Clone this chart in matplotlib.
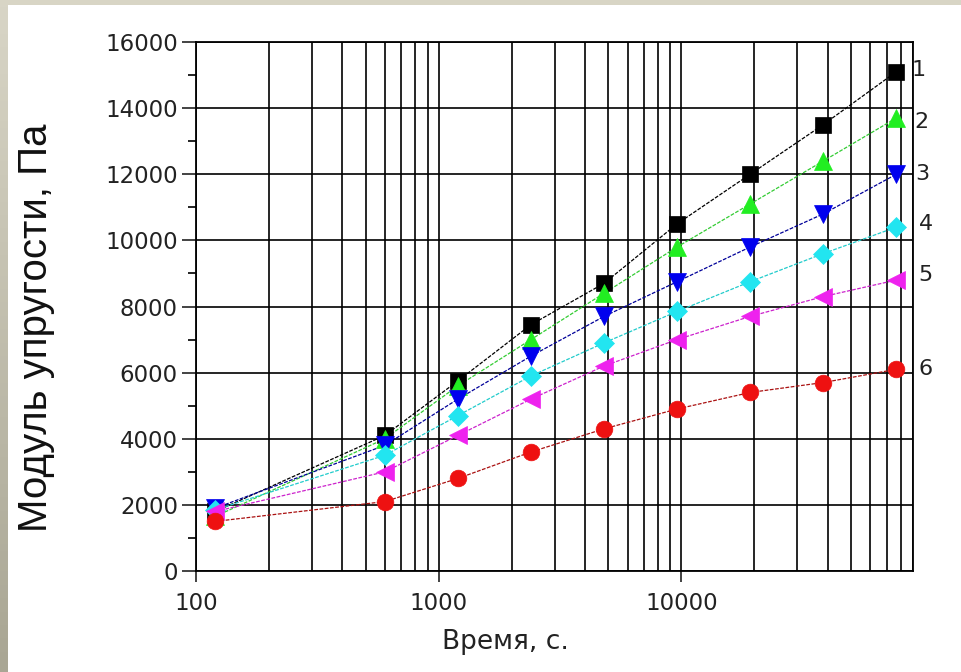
import matplotlib
matplotlib.use("Agg")
import matplotlib.pyplot as plt
from matplotlib.colors import LinearSegmentedColormap
from matplotlib.ticker import LogLocator, FixedLocator, MultipleLocator, NullFormatter
import numpy as np

# time, s
time_s = [120, 600, 1200, 2400, 4800, 9600, 19200, 38400, 76800]

# elastic modulus, Pa (curves 1..6)
curve_1 = [1800, 4100, 5750, 7450, 8700, 10500, 12000, 13500, 15100]
curve_2 = [1650, 4000, 5600, 7000, 8400, 9800, 11100, 12400, 13700]
curve_3 = [1900, 3800, 5200, 6500, 7700, 8750, 9800, 10800, 12000]
curve_4 = [1850, 3500, 4700, 5900, 6900, 7850, 8750, 9600, 10400]
curve_5 = [1800, 3000, 4100, 5200, 6200, 7000, 7700, 8300, 8800]
curve_6 = [1500, 2100, 2800, 3600, 4300, 4900, 5400, 5700, 6100]

curve_names = ["1", "2", "3", "4", "5", "6"]
curves = [curve_1, curve_2, curve_3, curve_4, curve_5, curve_6]

# (marker, face colour, line colour, marker size)
styles = [
    ("s", "#000000", "#000000", 12),
    ("^", "#22ee22", "#33cc33", 13),
    ("v", "#0000ee", "#000099", 13),
    ("D", "#22e5f0", "#22cccc", 10),
    ("<", "#ee22ee", "#cc22cc", 13),
    ("o", "#ee1111", "#aa1111", 12),
]
# label offsets from the last point, in points
label_offsets = [(11, 1.5), (13, -3), (14, 0), (16, 2), (16, 3.5), (16, 0)]

fig = plt.figure(figsize=(9.61, 6.72), dpi=100)
fig.patch.set_facecolor("white")

# greyish frame: thin strip at top, gradient strip on the left
fig.add_artist(plt.Rectangle((0, 1 - 5 / 672), 1, 5 / 672, transform=fig.transFigure,
                             facecolor="#d8d5c5", edgecolor="none"))
strip = fig.add_axes([0, 0, 8 / 961, 1])
strip.set_axis_off()
cmap = LinearSegmentedColormap.from_list("strip", ["#a9a694", "#d8d5c6"])
strip.imshow(np.linspace(0, 1, 100).reshape(-1, 1), aspect="auto", cmap=cmap,
             origin="lower", extent=[0, 1, 0, 1])

ax = fig.add_axes([196 / 961, 1 - 571 / 672, (913 - 196) / 961, (571 - 42) / 672])

for (marker, face, line, ms), y in zip(styles, curves):
    ax.plot(time_s, y, color=line, lw=0.9, ls=(0, (3, 1.2)), zorder=3)
    ax.plot(time_s, y, ls="none", marker=marker, ms=ms, markerfacecolor=face,
            markeredgecolor=face, markeredgewidth=0.5, zorder=4)

for name, y, off in zip(curve_names, curves, label_offsets):
    ax.annotate(name, (time_s[-1], y[-1]), xytext=off, textcoords="offset points",
                fontsize=16, va="center", ha="left", color="#222222",
                annotation_clip=False)

ax.set_xscale("log")
ax.set_xlim(100, 90000)
ax.set_ylim(0, 16000)

ax.xaxis.set_major_locator(FixedLocator([100, 1000, 10000]))
ax.xaxis.set_minor_locator(LogLocator(base=10, subs=np.arange(2, 10)))
ax.xaxis.set_minor_formatter(NullFormatter())
ax.set_xticklabels(["100", "1000", "10000"])
ax.yaxis.set_major_locator(MultipleLocator(2000))
ax.yaxis.set_minor_locator(MultipleLocator(1000))

ax.grid(True, which="major", axis="y", color="black", lw=1.2)
ax.grid(True, which="both", axis="x", color="black", lw=1.2)
ax.set_axisbelow(True)

ax.tick_params(axis="y", which="major", direction="out", length=10, width=1.2,
               labelsize=16.5, pad=3, colors="#222222")
ax.tick_params(axis="y", which="minor", direction="out", length=6, width=1.2)
ax.tick_params(axis="x", which="major", direction="out", length=8, width=1.2,
               labelsize=16.5, pad=7, colors="#222222")
ax.tick_params(axis="x", which="minor", length=0)

for s in ax.spines.values():
    s.set_linewidth(1.3)

ax.set_ylabel("Модуль упругости, Па", fontsize=29, family="Liberation Sans",
              color="#111111")
ax.yaxis.set_label_coords((55 - 196) / (913 - 196), (571 - 328) / (571 - 42))
ax.set_xlabel("Время, с.", fontsize=19, color="#222222")
ax.xaxis.set_label_coords((505 - 196) / (913 - 196), -0.11)

fig.savefig("out.png", dpi=100)
